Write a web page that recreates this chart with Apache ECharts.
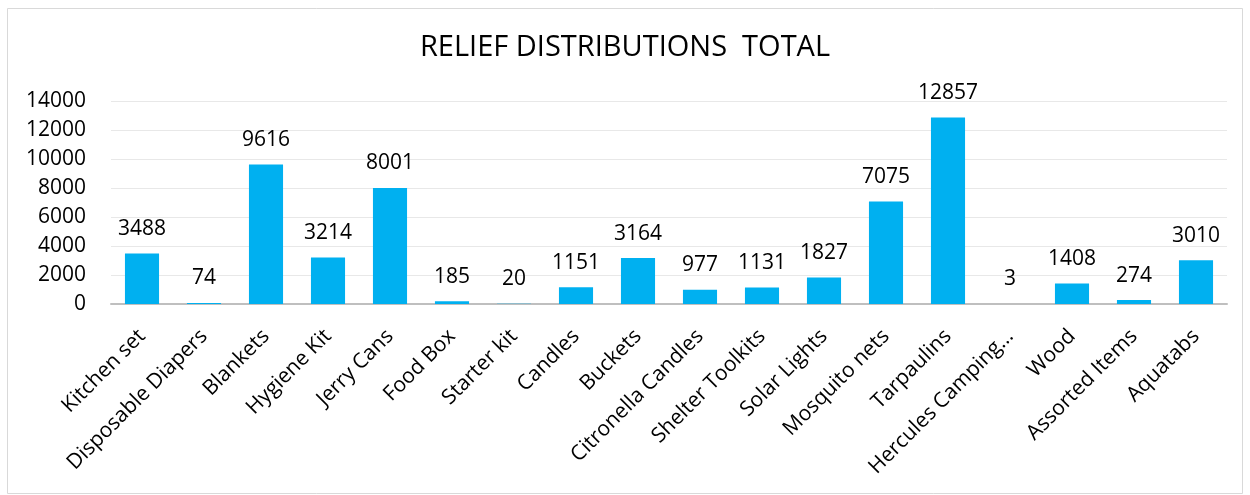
<!DOCTYPE html>
<html><head><meta charset="utf-8">
<script src="https://cdn.jsdelivr.net/npm/echarts@6/dist/echarts.min.js"></script>
<style>html,body{margin:0;padding:0;background:#fff}#c{width:1250px;height:495px}</style>
</head><body><div id="c"></div>
<script>
const categories = ["Kitchen set","Disposable Diapers","Blankets","Hygiene Kit","Jerry Cans","Food Box","Starter kit","Candles","Buckets","Citronella Candles","Shelter Toolkits","Solar Lights","Mosquito nets","Tarpaulins","Hercules Camping…","Wood","Assorted Items","Aquatabs"];
const totals = [3488,74,9616,3214,8001,185,20,1151,3164,977,1131,1827,7075,12857,3,1408,274,3010];
const yTicks = [0,2000,4000,6000,8000,10000,12000,14000];
const titleText = "RELIEF DISTRIBUTIONS  TOTAL";

const FONT = "Open Sans";
const chart = echarts.init(document.getElementById('c'), null, {renderer:'canvas'});
chart.setOption({
  animation:false,
  backgroundColor:'#fff',
  graphic:[{type:'rect',shape:{x:7.5,y:8.5,width:1235,height:485},style:{fill:'none',stroke:'#d9d9d9',lineWidth:1}}],
  title:{text:titleText,left:'center',top:28,textStyle:{fontFamily:FONT,fontSize:29,fontWeight:'normal',color:'#000'}},
  grid:{left:111,right:23,top:101,bottom:191,containLabel:false},
  xAxis:{type:'category',data:categories,
    axisLine:{lineStyle:{color:'#bfbfbf',width:2}},axisTick:{show:false},
    axisLabel:{rotate:45,interval:0,margin:29,fontFamily:FONT,fontSize:21,color:'#000'}},
  yAxis:{type:'value',min:yTicks[0],max:yTicks[yTicks.length-1],interval:2000,
    axisLine:{show:false},axisTick:{show:false},
    splitLine:{lineStyle:{color:'#e8e8e8',width:1}},
    axisLabel:{margin:25,fontFamily:FONT,fontSize:21,color:'#000',formatter:v=>String(v)}},
  series:[{type:'bar',data:totals,barWidth:'55%',itemStyle:{color:'#00B0F0'},
    label:{show:true,position:'top',distance:14,fontFamily:FONT,fontSize:21,color:'#000'}}]
});
</script></body></html>
